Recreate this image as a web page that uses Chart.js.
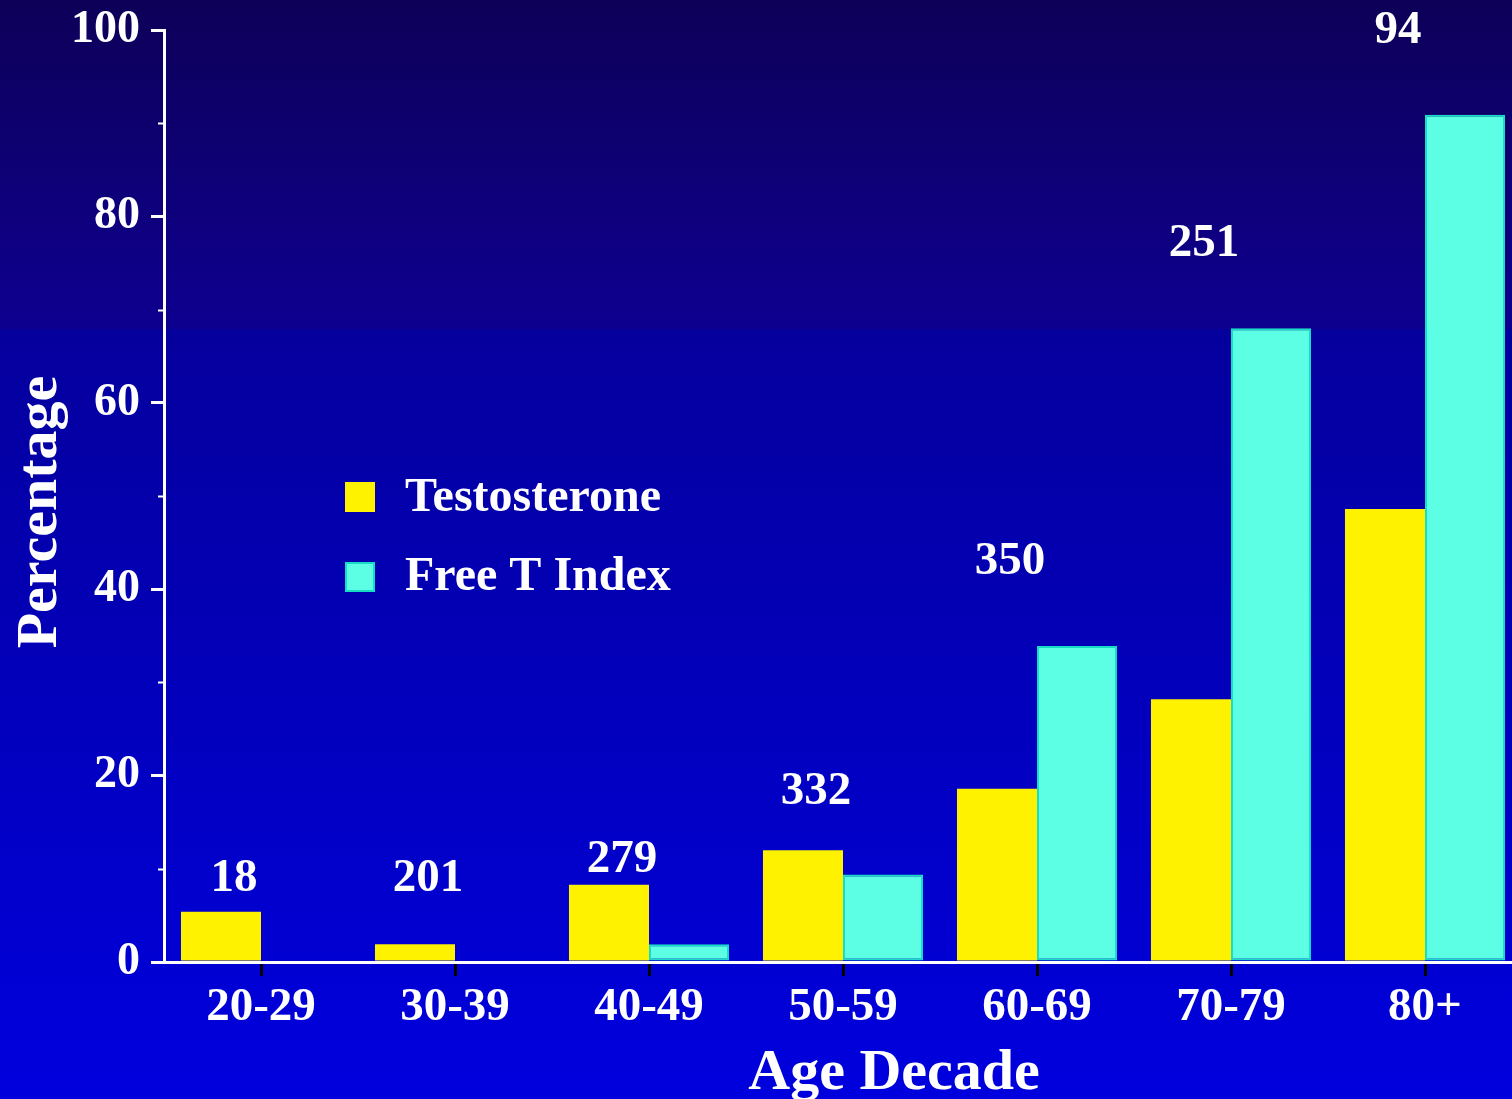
<!DOCTYPE html>
<html>
<head>
<meta charset="utf-8">
<script src="https://cdn.jsdelivr.net/npm/chart.js@4"></script>
<style>
  html, body { margin: 0; padding: 0; background: #0000d0; overflow: hidden; }
  #wrap { width: 1512px; height: 1099px; overflow: hidden; }
  canvas { display: block; }
</style>
</head>
<body>
<div id="wrap"><canvas id="chart" width="1522" height="1099"></canvas></div>
<script>
// Age groups and the share (%) below the reference range in each
const ageDecades = ['20-29', '30-39', '40-49', '50-59', '60-69', '70-79', '80+'];
const testosterone = [5.4, 1.9, 8.3, 12.0, 18.6, 28.2, 48.6];
const freeTIndex = [0, 0, 1.9, 9.4, 33.9, 68.0, 90.9];
// Number of men in each decade, and the percentage level each count is written at
const menPerDecade = ['18', '201', '279', '332', '350', '251', '94'];
const countLabelLevel = [9.3, 9.3, 11.4, 18.7, 43.4, 77.5, 100.3];
const yTickValues = [0, 20, 40, 60, 80, 100];
const yMinorTicks = [10, 30, 50, 70, 90];

const SERIF = '"Liberation Serif", "Times New Roman", serif';
const YELLOW = '#fff200';
const CYAN = '#5cffe4';
const CYAN_EDGE = '#18dcc4';

const backdrop = {
  id: 'backdrop',
  beforeDraw(chart) {
    const { ctx, width, height } = chart;
    const split = 329;
    ctx.save();
    let g = ctx.createLinearGradient(0, 0, 0, split);
    g.addColorStop(0, '#0d0058');
    g.addColorStop(1, '#0e0090');
    ctx.fillStyle = g;
    ctx.fillRect(0, 0, width, split);
    g = ctx.createLinearGradient(0, split, 0, height);
    g.addColorStop(0, '#05009c');
    g.addColorStop(1, '#0000de');
    ctx.fillStyle = g;
    ctx.fillRect(0, split, width, height - split);
    ctx.restore();
  }
};

const annotations = {
  id: 'annotations',
  afterDraw(chart) {
    const { ctx } = chart;
    const x = chart.scales.x;
    const y = chart.scales.y;
    ctx.save();

    // minor tick marks on the percentage axis
    ctx.strokeStyle = '#ffffff';
    ctx.lineWidth = 2;
    yMinorTicks.forEach(v => {
      const py = Math.round(y.getPixelForValue(v)) + 0.5;
      ctx.beginPath();
      ctx.moveTo(x.left - 6, py);
      ctx.lineTo(x.left, py);
      ctx.stroke();
    });

    // group sizes above each decade
    ctx.fillStyle = '#ffffff';
    ctx.font = 'bold 47px ' + SERIF;
    ctx.textAlign = 'center';
    ctx.textBaseline = 'alphabetic';
    menPerDecade.forEach((n, i) => {
      const px = x.getPixelForValue(i) - 27;
      const py = y.getPixelForValue(countLabelLevel[i]) + 16;
      ctx.fillText(n, px, py);
    });

    // legend
    ctx.textAlign = 'left';
    ctx.font = 'bold 48px ' + SERIF;
    ctx.fillStyle = YELLOW;
    ctx.fillRect(345, 482, 30, 30);
    ctx.fillStyle = CYAN;
    ctx.fillRect(345, 562, 30, 30);
    ctx.strokeStyle = CYAN_EDGE;
    ctx.lineWidth = 2;
    ctx.strokeRect(346, 563, 28, 28);
    ctx.fillStyle = '#ffffff';
    ctx.fillText(chart.data.datasets[0].label, 405, 511);
    ctx.fillText(chart.data.datasets[1].label, 405, 590);

    // axis titles
    ctx.font = 'bold 58px ' + SERIF;
    ctx.textAlign = 'center';
    ctx.fillText('Age Decade', 894, 1089);
    ctx.translate(56, 512);
    ctx.rotate(-Math.PI / 2);
    ctx.fillText('Percentage', 0, 0);

    ctx.restore();
  }
};

new Chart(document.getElementById('chart'), {
  type: 'bar',
  data: {
    labels: ageDecades,
    datasets: [
      {
        label: 'Testosterone',
        data: testosterone,
        backgroundColor: YELLOW,
        borderWidth: 0
      },
      {
        label: 'Free T Index',
        data: freeTIndex,
        backgroundColor: CYAN,
        borderColor: CYAN_EDGE,
        borderWidth: 2,
        borderSkipped: false
      }
    ]
  },
  options: {
    responsive: false,
    animation: false,
    events: [],
    layout: { padding: { top: 30, left: 0, right: 0, bottom: 0 } },
    datasets: { bar: { categoryPercentage: 0.825, barPercentage: 1 } },
    plugins: {
      legend: { display: false },
      tooltip: { enabled: false }
    },
    scales: {
      x: {
        offset: true,
        grid: {
          display: true,
          offset: false,
          drawOnChartArea: false,
          drawTicks: true,
          tickLength: 14,
          color: '#000000',
          lineWidth: 3
        },
        border: { display: true, color: '#ffffff', width: 3 },
        ticks: {
          color: '#ffffff',
          font: { family: SERIF, size: 47, weight: 'bold' },
          padding: 4,
          maxRotation: 0,
          autoSkip: false
        },
        afterFit(scale) {
          scale.height = 137;
          scale.paddingLeft = 0;
          scale.paddingRight = 0;
        }
      },
      y: {
        min: 0,
        max: 100,
        afterBuildTicks(scale) { scale.ticks = yTickValues.map(v => ({ value: v })); },
        grid: {
          display: true,
          drawOnChartArea: false,
          drawTicks: true,
          tickLength: 13,
          color: '#ffffff',
          lineWidth: 3
        },
        border: { display: true, color: '#ffffff', width: 3 },
        ticks: {
          color: '#ffffff',
          font: { family: SERIF, size: 46, weight: 'bold' },
          padding: 11
        },
        afterFit(scale) {
          scale.width = 164;
          scale.paddingTop = 0;
          scale.paddingBottom = 0;
        }
      }
    }
  },
  plugins: [backdrop, annotations]
});
</script>
</body>
</html>
